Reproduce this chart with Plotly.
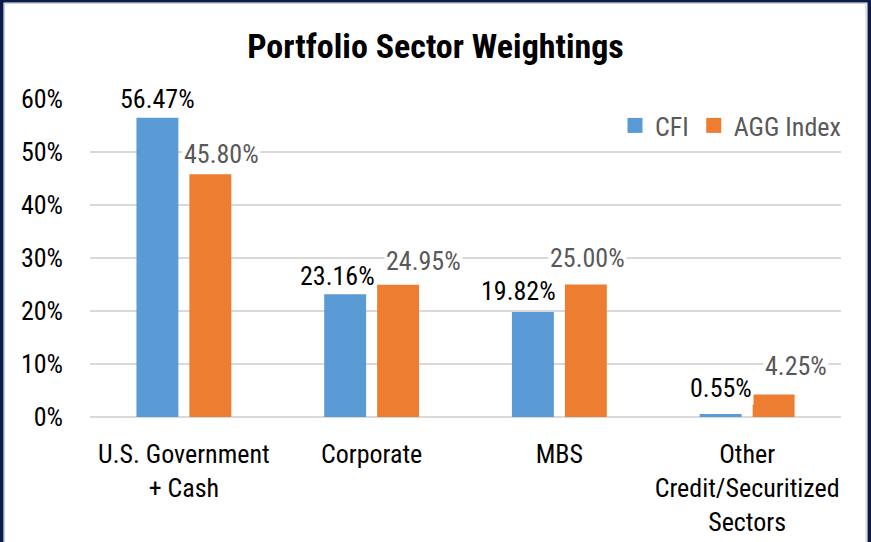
import plotly.graph_objects as go

categories = ["U.S. Government<br>+ Cash", "Corporate", "MBS", "Other<br>Credit/Securitized<br>Sectors"]
series_names = ["CFI", "AGG Index"]
cfi_values = [56.47, 23.16, 19.82, 0.55]
agg_values = [45.80, 24.95, 25.00, 4.25]
y_tick_vals = [0, 10, 20, 30, 40, 50, 60]
y_tick_text = ["0%", "10%", "20%", "30%", "40%", "50%", "60%"]
title_text = "Portfolio Sector Weightings"

# style
FONT = "Roboto Condensed, Liberation Sans Narrow, DejaVu Sans Condensed, Roboto, sans-serif"
FS = 26
BLUE = "#5B9BD5"
ORANGE = "#ED7D31"
GRID = "#D9D9D9"
NAVY = "#0B1C4A"
W, H = 871, 542
L, R, T, B = 90, 30, 99, 125
PW, PH = W - L - R, H - T - B
BAR_OFF = 26.5  # px offset of each bar from category centre

# label style offsets (px): (dx relative to bar centre, dy above bar top)
cfi_label_off = [(0, 19), (-7.5, 18), (-14, 21), (0, 26)]
agg_label_off = [(11, 20), (25, 24), (2, 26.5), (22, 28)]

fig = go.Figure()
fig.add_trace(go.Bar(name=series_names[0], x=categories, y=cfi_values, showlegend=False,
                     marker=dict(color=BLUE, line=dict(width=0))))
fig.add_trace(go.Bar(name=series_names[1], x=categories, y=agg_values, showlegend=False,
                     marker=dict(color=ORANGE, line=dict(width=0))))
# legend entries with larger square swatches
for name, col in zip(series_names, [BLUE, ORANGE]):
    fig.add_trace(go.Scatter(name=name, x=[None], y=[None], mode="markers",
                             marker=dict(symbol="square", size=15, color=col),
                             showlegend=True, hoverinfo="skip"))

annotations = []
for i, c in enumerate(categories):
    dx, dy = cfi_label_off[i]
    annotations.append(dict(x=c, y=cfi_values[i], xref="x", yref="y",
                            text=f"{cfi_values[i]:.2f}%", showarrow=False,
                            xshift=-BAR_OFF + dx, yshift=dy, yanchor="middle",
                            bgcolor="white", borderpad=1,
                            font=dict(family=FONT, size=FS, color="#000000")))
    dx, dy = agg_label_off[i]
    annotations.append(dict(x=c, y=agg_values[i], xref="x", yref="y",
                            text=f"{agg_values[i]:.2f}%", showarrow=False,
                            xshift=BAR_OFF + dx, yshift=dy, yanchor="middle",
                            bgcolor="white", borderpad=1,
                            font=dict(family=FONT, size=FS, color="#595959")))


def px_x(p):
    return (p - L) / PW


def px_y(p):
    return (H - B - p) / PH


shapes = [
    dict(type="rect", xref="paper", yref="paper", x0=px_x(0), x1=px_x(3.5), y0=px_y(H), y1=px_y(0),
         fillcolor=NAVY, line=dict(width=0), layer="above"),
    dict(type="rect", xref="paper", yref="paper", x0=px_x(867.5), x1=px_x(W), y0=px_y(H), y1=px_y(0),
         fillcolor=NAVY, line=dict(width=0), layer="above"),
    dict(type="rect", xref="paper", yref="paper", x0=px_x(0), x1=px_x(W), y0=px_y(2.5), y1=px_y(0),
         fillcolor=NAVY, line=dict(width=0), layer="above"),
    dict(type="line", xref="paper", yref="paper", x0=px_x(4.5), x1=px_x(4.5), y0=px_y(H), y1=px_y(3),
         line=dict(color="#D0D0D0", width=1.2), layer="above"),
    dict(type="line", xref="paper", yref="paper", x0=px_x(866), x1=px_x(866), y0=px_y(H), y1=px_y(3),
         line=dict(color="#D0D0D0", width=1.2), layer="above"),
    dict(type="line", xref="paper", yref="paper", x0=px_x(4), x1=px_x(866.5), y0=px_y(3.5), y1=px_y(3.5),
         line=dict(color="#D0D0D0", width=1.2), layer="above"),
]

fig.update_layout(
    width=W, height=H, autosize=False,
    margin=dict(l=L, r=R, t=T, b=B, pad=0, autoexpand=False),
    paper_bgcolor="white", plot_bgcolor="white",
    font=dict(family=FONT, size=FS, color="#000000"),
    title=dict(text="<b>" + title_text + "</b>", x=0.5, xanchor="center",
               y=1 - 46 / H, yanchor="middle", yref="container",
               font=dict(family=FONT, size=34, color="#000000")),
    barmode="group", bargap=0.436, bargroupgap=0.208,
    showlegend=True,
    legend=dict(orientation="h", x=1 + 5 / PW, xanchor="right", y=px_y(125.5), yanchor="middle",
                bgcolor="rgba(0,0,0,0)", font=dict(family=FONT, size=FS, color="#595959"),
                traceorder="normal"),
    xaxis=dict(showgrid=False, showline=False, ticks="", tickfont=dict(size=FS, color="#000000"),
               ticklabelstandoff=19, fixedrange=True, automargin=False,
               type="category", categoryorder="array", categoryarray=categories),
    yaxis=dict(range=[0, 60], tickvals=y_tick_vals, ticktext=y_tick_text, showgrid=True,
               gridcolor=GRID, gridwidth=1.5, zeroline=True, zerolinecolor=GRID, zerolinewidth=1.5,
               showline=False, ticks="", ticklabelstandoff=26, automargin=False,
               tickfont=dict(size=FS, color="#000000"), fixedrange=True),
    annotations=annotations,
    shapes=shapes,
)

fig.write_html("out.html", config={"displayModeBar": False},
               post_script="document.body.style.margin='0';document.body.style.overflow='hidden';")
